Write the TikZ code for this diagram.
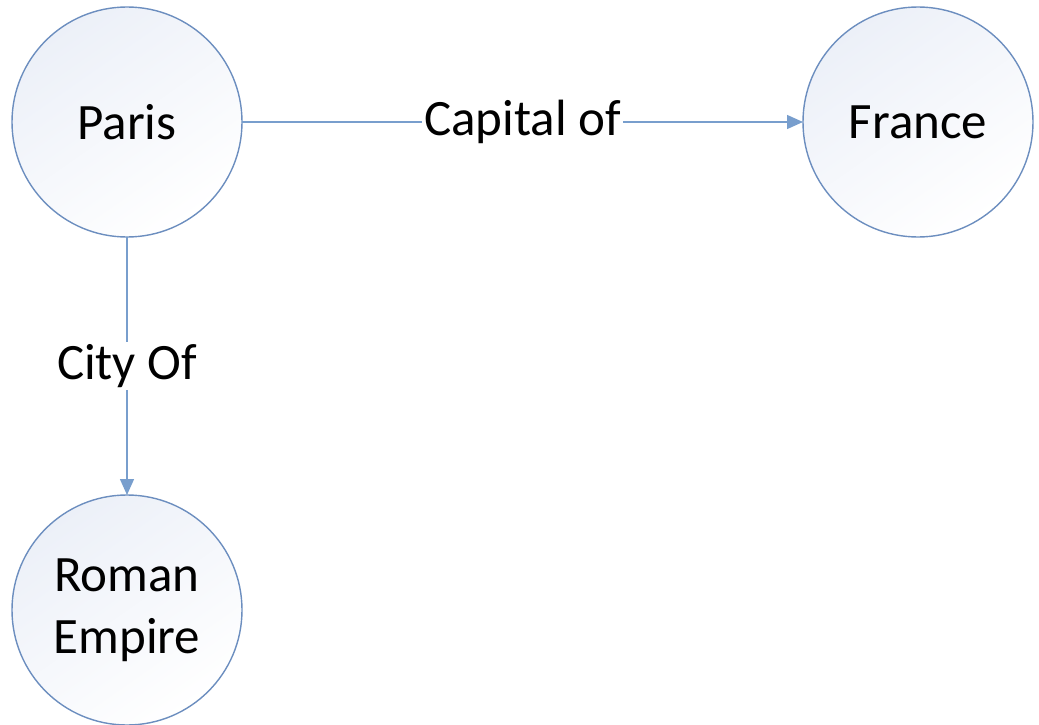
\documentclass[tikz,border=0pt]{standalone}
\usepackage{fontspec}
\setmainfont{Carlito}
\usetikzlibrary{arrows.meta}
\definecolor{rim}{RGB}{108,142,191}
\definecolor{link}{RGB}{120,158,205}
\definecolor{tint}{RGB}{236,240,248}
\tikzset{
  entity/.style={circle, draw=rim, line width=1.4pt, minimum size=230pt,
    inner sep=0pt, outer sep=0pt, align=center,
    top color=tint, bottom color=white, shading angle=35,
    font=\fontsize{51}{62}\selectfont},
  relation/.style={draw=link, line width=1.4pt,
    -{Triangle[length=16pt,width=14pt]}},
  rellabel/.style={fill=white, inner sep=2pt, font=\fontsize{51}{60}\selectfont}
}
\begin{document}
\begin{tikzpicture}[x=1pt,y=1pt]
  \useasboundingbox (0,0) rectangle (1039,-725);
  \clip (0,0) rectangle (1039,-725);
  \node[entity] (paris) at (127,-122) {Paris};
  \node[entity] (france) at (918,-122) {France};
  \node[entity] (rome) at (127,-610) {Roman\\Empire};
  \draw[relation] (paris) -- node[rellabel] {Capital of} (france);
  \draw[relation] (paris) -- node[rellabel] {City Of} (rome);
\end{tikzpicture}
\end{document}
